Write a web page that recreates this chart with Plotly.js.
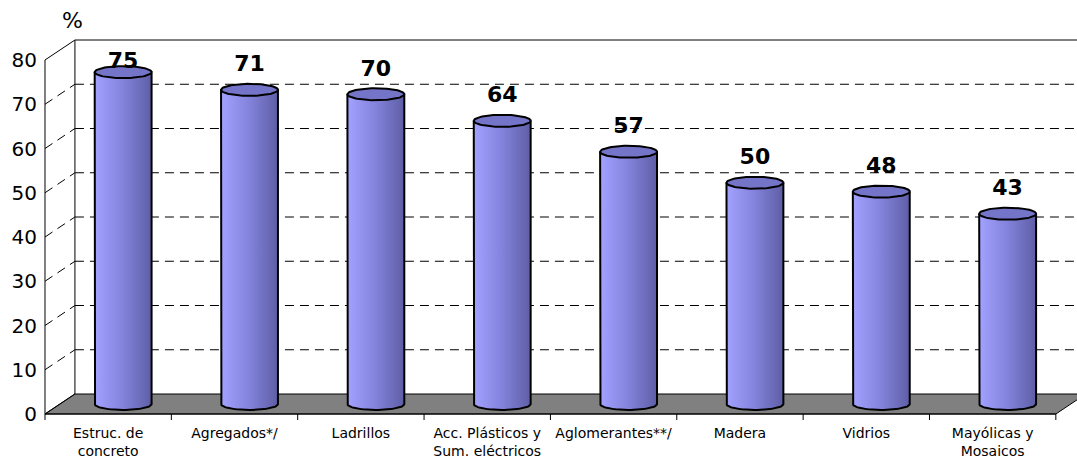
<!DOCTYPE html>
<html>
<head>
<meta charset="utf-8">
<script src="https://cdn.plot.ly/plotly-3.0.1.min.js"></script>
<style>html,body{margin:0;padding:0;background:#fff;}#chart{width:1077px;height:462px;}</style>
</head>
<body>
<div id="chart"></div>
<script>
// ---- data ----
const categories = ["Estruc. de<br>concreto", "Agregados*/", "Ladrillos", "Acc. Plásticos y<br>Sum. eléctricos", "Aglomerantes**/", "Madera", "Vidrios", "Mayólicas y<br>Mosaicos"];
const values = [75, 71, 70, 64, 57, 50, 48, 43];
const yTicks = [0, 10, 20, 30, 40, 50, 60, 70, 80];
const gridValues = [10, 20, 30, 40, 50, 60, 70];

// ---- geometry (pseudo 3D in data units) ----
const pxPerCat = 126.6, pxPerUnit = 4.425;
const depthX = 30 / pxPerCat, depthY = 20 / pxPerUnit;      // back wall offset
const midX = depthX / 2, midY = depthY / 2;                   // cylinder depth
const rx = 28.5 / pxPerCat, ry = 6 / pxPerUnit;               // cylinder radii
const n = categories.length;
const xLeft = -0.5, xRight = n - 0.5;
const plotL = 40, plotT = 35, plotB = 422;
const xMin = xLeft - (45 - plotL) / pxPerCat;
const xMax = xLeft + (1077 - 45 + 2) / pxPerCat;
const yMax = (414 - plotT) / pxPerUnit;
const yMin = -(plotB - 414) / pxPerUnit;
const labelGap = 24 / pxPerUnit;
const labelCap = (414 - 62) / pxPerUnit;

const traces = [];
const N = 40;
values.forEach((v, i) => {
  const cx = i + midX, yb = midY, yt = v + midY;
  const bx = [], by = [];
  bx.push(cx - rx); by.push(yt);
  bx.push(cx - rx); by.push(yb);
  for (let k = 0; k <= N; k++) {
    const t = Math.PI + Math.PI * k / N;
    bx.push(cx + rx * Math.cos(t)); by.push(yb + ry * Math.sin(t));
  }
  bx.push(cx + rx); by.push(yt);
  bx.push(cx - rx); by.push(yt);
  traces.push({
    type: 'scatter', mode: 'lines', x: bx, y: by, fill: 'toself',
    fillgradient: {type: 'horizontal', colorscale: [[0, '#a2a2ff'], [0.45, '#8686e0'], [1, '#5e5ea6']]},
    line: {color: '#000', width: 2}, hoverinfo: 'skip', showlegend: false
  });
  const ex = [], ey = [];
  for (let k = 0; k <= 2 * N; k++) {
    const t = 2 * Math.PI * k / (2 * N);
    ex.push(cx + rx * Math.cos(t)); ey.push(yt + ry * Math.sin(t));
  }
  traces.push({
    type: 'scatter', mode: 'lines', x: ex, y: ey, fill: 'toself', fillcolor: '#7474c8',
    line: {color: '#000', width: 2}, hoverinfo: 'skip', showlegend: false
  });
});
traces.push({
  type: 'scatter', mode: 'text',
  x: values.map((v, i) => i + midX),
  y: values.map(v => Math.min(v + midY + labelGap, labelCap)),
  text: values.map(String), textposition: 'middle center',
  textfont: {family: 'DejaVu Sans', size: 22, color: '#000', weight: 'bold'},
  cliponaxis: false, hoverinfo: 'skip', showlegend: false
});

const shapes = [];
const bxL = xLeft + depthX;
// floor
shapes.push({type: 'path', layer: 'below', xref: 'x', yref: 'y',
  path: `M ${xLeft} 0 L ${xRight} 0 L ${xRight + depthX} ${depthY} L ${bxL} ${depthY} Z`,
  fillcolor: '#808080', line: {color: '#000', width: 1}});
// back wall grid lines
gridValues.forEach(g => {
  shapes.push({type: 'line', layer: 'below', xref: 'x', yref: 'y', x0: bxL, x1: xMax, y0: g + depthY, y1: g + depthY,
    line: {color: '#000', width: 1, dash: '9px,6px'}});
  shapes.push({type: 'line', layer: 'below', xref: 'x', yref: 'y', x0: xLeft, x1: bxL, y0: g, y1: g + depthY,
    line: {color: '#000', width: 1, dash: '9px,6px'}});
});
// back wall edges
shapes.push({type: 'line', layer: 'below', xref: 'x', yref: 'y', x0: bxL, x1: bxL, y0: depthY, y1: 80 + depthY, line: {color: '#000', width: 1}});
shapes.push({type: 'line', layer: 'below', xref: 'x', yref: 'y', x0: bxL, x1: xMax, y0: 80 + depthY, y1: 80 + depthY, line: {color: '#000', width: 1}});
shapes.push({type: 'line', layer: 'below', xref: 'x', yref: 'y', x0: xLeft, x1: bxL, y0: 80, y1: 80 + depthY, line: {color: '#000', width: 1}});
shapes.push({type: 'line', layer: 'below', xref: 'x', yref: 'y', x0: xLeft, x1: bxL, y0: 0, y1: depthY, line: {color: '#000', width: 1}});
// front axes
shapes.push({type: 'line', layer: 'above', xref: 'x', yref: 'y', x0: xLeft, x1: xLeft, y0: 0, y1: 80, line: {color: '#000', width: 1}});
shapes.push({type: 'line', layer: 'above', xref: 'x', yref: 'y', x0: xLeft, x1: xRight, y0: 0, y1: 0, line: {color: '#000', width: 1}});
for (let k = 0; k <= n; k++) {
  shapes.push({type: 'line', layer: 'above', xref: 'x', yref: 'y', x0: xLeft + k, x1: xLeft + k, y0: 0, y1: -6 / pxPerUnit, line: {color: '#000', width: 1}});
}

const layout = {
  width: 1077, height: 462,
  margin: {l: plotL, r: 0, t: plotT, b: 462 - plotB, pad: 0},
  paper_bgcolor: '#fff', plot_bgcolor: 'rgba(0,0,0,0)',
  showlegend: false, hovermode: false,
  font: {family: 'DejaVu Sans', color: '#000'},
  title: {text: '%', x: 62 / 1077, xanchor: 'left', y: 1 - 13 / 462, yanchor: 'top', font: {family: 'DejaVu Sans', size: 22, color: '#000'}},
  xaxis: {range: [xMin, xMax], tickmode: 'array', tickvals: categories.map((c, i) => i), ticktext: categories,
    showgrid: false, zeroline: false, showline: false, ticks: '', tickfont: {family: 'DejaVu Sans', size: 14, color: '#000'},
    fixedrange: true, ticklabelstandoff: 1},
  yaxis: {range: [yMin, yMax], tickmode: 'array', tickvals: yTicks, ticktext: yTicks.map(String),
    showgrid: false, zeroline: false, showline: false, ticks: '', tickfont: {family: 'DejaVu Sans', size: 20, color: '#000'},
    fixedrange: true, ticklabelstandoff: 2},
  shapes: shapes
};
Plotly.newPlot('chart', traces, layout, {displayModeBar: false, staticPlot: true});
</script>
</body>
</html>
